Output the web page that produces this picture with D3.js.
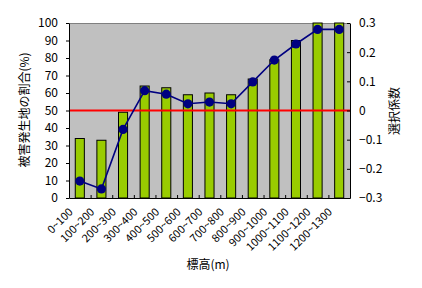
<!DOCTYPE html>
<html>
<head>
<meta charset="utf-8">
<script src="https://cdn.jsdelivr.net/npm/d3@7"></script>
<style>
  body { margin: 0; background: #fff; }
  text { font-family: "Noto Sans CJK JP", sans-serif; fill: #000; }
</style>
</head>
<body>
<div id="chart"></div>
<script>
// elevation classes
var categories = ["0~100", "100~200", "200~300", "300~400", "400~500", "500~600",
  "600~700", "700~800", "800~900", "900~1000", "1000~1100", "1100~1200", "1200~1300"];

// share of damaged sites (%), left axis
var damageShare = [34, 33, 49, 64, 63, 59, 60, 59, 68, 79, 90, 100, 100];

// selection coefficient, right axis
var selection = [-0.242, -0.269, -0.065, 0.068, 0.056, 0.023, 0.029, 0.023, 0.098, 0.173, 0.228, 0.278, 0.278];

var leftTicks = [0, 10, 20, 30, 40, 50, 60, 70, 80, 90, 100];
var rightTicks = [-0.3, -0.2, -0.1, 0, 0.1, 0.2, 0.3];

var width = 422, height = 288;
var plot = {left: 69, right: 350, top: 23, bottom: 198};

var svg = d3.select("#chart").append("svg")
  .attr("width", width)
  .attr("height", height);

var x = d3.scaleBand()
  .domain(categories)
  .range([plot.left, plot.right])
  .padding(0);

// index scale for the tick marks between categories
var xIdx = d3.scaleLinear()
  .domain([0, categories.length])
  .range([plot.left, plot.right]);

var yLeft = d3.scaleLinear().domain([0, 100]).range([plot.bottom, plot.top]);
var yRight = d3.scaleLinear().domain([-0.3, 0.3]).range([plot.bottom, plot.top]);

// plot background
svg.append("rect")
  .attr("x", plot.left)
  .attr("y", plot.top)
  .attr("width", plot.right - plot.left)
  .attr("height", plot.bottom - plot.top)
  .attr("fill", "#c0c0c0");

svg.append("line")
  .attr("x1", plot.left).attr("x2", plot.right)
  .attr("y1", plot.top + 0.5).attr("y2", plot.top + 0.5)
  .attr("stroke", "#808080");

// bars
var barW = x.bandwidth() * 0.42;
svg.selectAll(".bar")
  .data(damageShare)
  .enter()
  .append("rect")
  .attr("class", "bar")
  .attr("x", function(d, i) { return x(categories[i]) + (x.bandwidth() - barW) / 2; })
  .attr("y", function(d) { return yLeft(d); })
  .attr("width", barW)
  .attr("height", function(d) { return plot.bottom - yLeft(d); })
  .attr("fill", "#99cc00")
  .attr("stroke", "#000")
  .attr("stroke-width", 1);

// red reference line at 50% / 0
svg.append("line")
  .attr("x1", plot.left).attr("x2", plot.right)
  .attr("y1", yRight(0)).attr("y2", yRight(0))
  .attr("stroke", "#ff0000")
  .attr("stroke-width", 2);

// selection coefficient line
var line = d3.line()
  .x(function(d, i) { return x(categories[i]) + x.bandwidth() / 2; })
  .y(function(d) { return yRight(d); });

svg.append("path")
  .datum(selection)
  .attr("d", line)
  .attr("fill", "none")
  .attr("stroke", "#000080")
  .attr("stroke-width", 1.6);

svg.selectAll(".dot")
  .data(selection)
  .enter()
  .append("circle")
  .attr("class", "dot")
  .attr("cx", function(d, i) { return x(categories[i]) + x.bandwidth() / 2; })
  .attr("cy", function(d) { return yRight(d); })
  .attr("r", 4.6)
  .attr("fill", "#000080");

// left axis
svg.append("g")
  .attr("transform", "translate(" + plot.left + ",0)")
  .call(d3.axisLeft(yLeft).tickValues(leftTicks).tickSize(3).tickSizeOuter(0).tickPadding(8));

// right axis, ticks pointing inward
svg.append("g")
  .attr("transform", "translate(" + plot.right + ",0)")
  .call(d3.axisRight(yRight).tickValues(rightTicks).tickSize(-3).tickSizeOuter(0).tickPadding(9)
    .tickFormat(function(d) { return d === 0 ? "0" : d3.format(".1f")(d); }));

// bottom axis tick marks between categories
svg.append("g")
  .attr("transform", "translate(0," + plot.bottom + ")")
  .call(d3.axisBottom(xIdx).tickValues(d3.range(categories.length + 1)).tickSize(-3).tickSizeOuter(0).tickFormat(""));

// bottom axis labels
var bottomLabels = svg.append("g")
  .attr("transform", "translate(0," + plot.bottom + ")")
  .call(d3.axisBottom(x).tickSize(0).tickPadding(0));
bottomLabels.select(".domain").remove();
bottomLabels.selectAll("text")
  .attr("y", 0)
  .attr("dy", "0.35em")
  .attr("text-anchor", "end")
  .attr("transform", "translate(-9,12) rotate(-45)");

svg.selectAll(".domain").attr("stroke", "#000");
svg.selectAll(".tick line").attr("stroke", "#000");
svg.selectAll(".tick text").style("font-size", "12px");
bottomLabels.selectAll("text").style("font-size", "11px");

// axis titles
svg.append("text")
  .attr("transform", "translate(25,110) rotate(-90)")
  .attr("text-anchor", "middle")
  .attr("dy", "0.35em")
  .style("font-size", "12px")
  .text("被害発生地の割合(%)");

svg.append("text")
  .attr("transform", "translate(395,111) rotate(-90)")
  .attr("text-anchor", "middle")
  .attr("dy", "0.35em")
  .style("font-size", "12px")
  .text("選択係数");

svg.append("text")
  .attr("x", 208)
  .attr("y", 265)
  .attr("text-anchor", "middle")
  .attr("dy", "0.35em")
  .style("font-size", "12px")
  .text("標高(m)");
</script>
</body>
</html>
